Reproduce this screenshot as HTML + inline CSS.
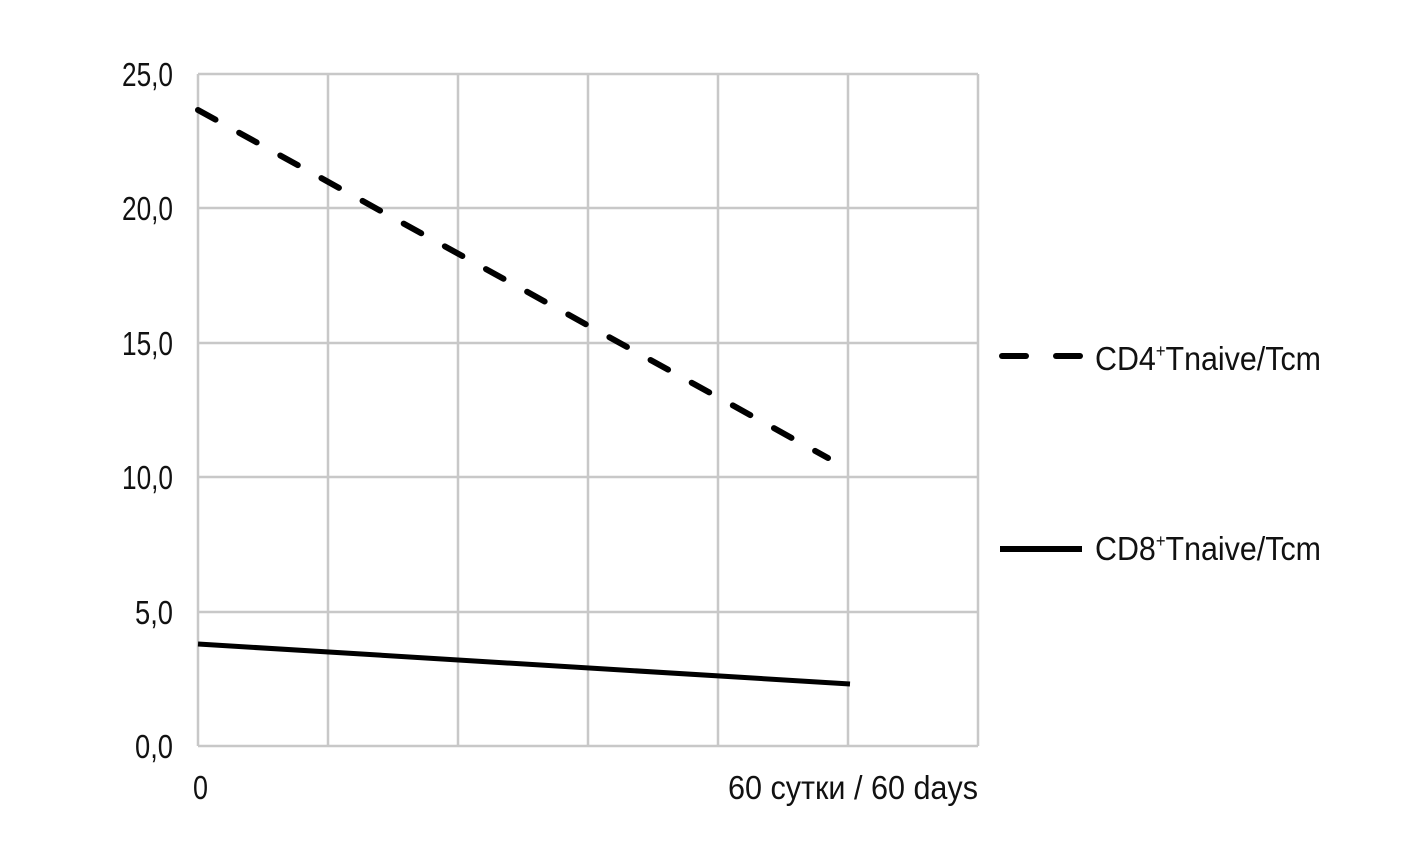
<!DOCTYPE html>
<html><head><meta charset="utf-8"><style>body{margin:0;background:#fff}svg{display:block}</style></head>
<body>
<svg width="1411" height="851" xmlns="http://www.w3.org/2000/svg" font-family="Liberation Sans, sans-serif" font-size="33" fill="#111">
<g stroke="#c8c8c8" stroke-width="2.5">
<line x1="198" y1="74" x2="978" y2="74"/><line x1="198" y1="208" x2="978" y2="208"/>
<line x1="198" y1="343" x2="978" y2="343"/><line x1="198" y1="477" x2="978" y2="477"/>
<line x1="198" y1="612" x2="978" y2="612"/><line x1="198" y1="746" x2="978" y2="746"/>
<line x1="198" y1="74" x2="198" y2="746"/><line x1="328" y1="74" x2="328" y2="746"/>
<line x1="458" y1="74" x2="458" y2="746"/><line x1="588" y1="74" x2="588" y2="746"/>
<line x1="718" y1="74" x2="718" y2="746"/><line x1="848" y1="74" x2="848" y2="746"/>
<line x1="978" y1="74" x2="978" y2="746"/>
</g>
<line x1="198" y1="110" x2="828" y2="458" stroke="#000" stroke-width="6" stroke-linecap="round" stroke-dasharray="20 27"/>
<line x1="198" y1="644" x2="850" y2="684" stroke="#000" stroke-width="5"/>
<g text-anchor="end">
<text x="173" y="86" textLength="51" lengthAdjust="spacingAndGlyphs">25,0</text>
<text x="173" y="220" textLength="51" lengthAdjust="spacingAndGlyphs">20,0</text>
<text x="173" y="355" textLength="51" lengthAdjust="spacingAndGlyphs">15,0</text>
<text x="173" y="489" textLength="51" lengthAdjust="spacingAndGlyphs">10,0</text>
<text x="173" y="624" textLength="38" lengthAdjust="spacingAndGlyphs">5,0</text>
<text x="173" y="758" textLength="38" lengthAdjust="spacingAndGlyphs">0,0</text>
</g>
<text x="193" y="799" textLength="15" lengthAdjust="spacingAndGlyphs">0</text>
<text x="728" y="799" textLength="250" lengthAdjust="spacingAndGlyphs">60 сутки / 60 days</text>
<line x1="1002" y1="356" x2="1026" y2="356" stroke="#000" stroke-width="6" stroke-linecap="round"/>
<line x1="1056" y1="356" x2="1080" y2="356" stroke="#000" stroke-width="6" stroke-linecap="round"/>
<line x1="1000" y1="549" x2="1082" y2="549" stroke="#000" stroke-width="6"/>
<text x="1095" y="370" textLength="226" lengthAdjust="spacingAndGlyphs">CD4<tspan font-size="18" dy="-13">+</tspan><tspan dy="13">Tnaive/Tcm</tspan></text>
<text x="1095" y="560" textLength="226" lengthAdjust="spacingAndGlyphs">CD8<tspan font-size="18" dy="-13">+</tspan><tspan dy="13">Tnaive/Tcm</tspan></text>
</svg>
</body></html>
